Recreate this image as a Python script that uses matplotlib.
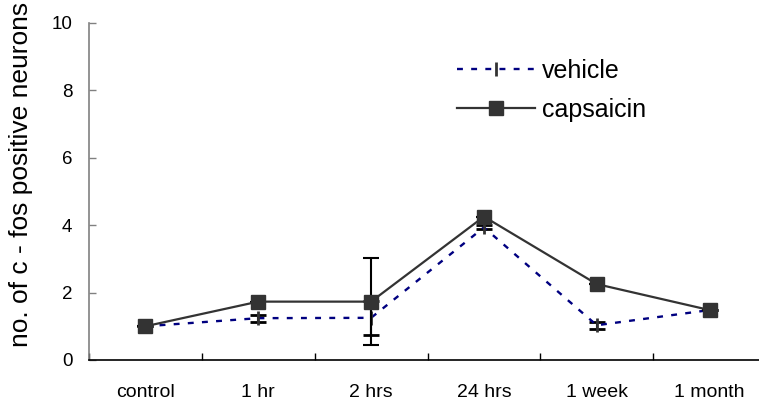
import matplotlib
matplotlib.use("Agg")
import matplotlib.pyplot as plt
from matplotlib.lines import Line2D
import numpy as np

categories = ["control", "1 hr", "2 hrs", "24 hrs", "1 week", "1 month"]
vehicle = [1.0, 1.24, 1.25, 3.93, 1.03, 1.48]
vehicle_err = [0.0, 0.1, 0.5, 0.06, 0.1, 0.0]
capsaicin = [1.0, 1.73, 1.73, 4.25, 2.25, 1.48]
capsaicin_err = [0.0, 0.0, 1.3, 0.0, 0.0, 0.0]
yticks = [0, 2, 4, 6, 8, 10]

plt.rcParams['font.family'] = ['Liberation Sans', 'DejaVu Sans']

W, H = 759, 408
fig = plt.figure(figsize=(W / 100, H / 100), dpi=100)
ax = fig.add_axes([89 / W, (H - 360) / H, (766 - 89) / W, (360 - 22.6) / H])

x = np.arange(len(categories))
dark = "#333333"
navy = "#000080"
vdash = (0, (2.5, 3.5))

ax.errorbar(x, vehicle, yerr=vehicle_err, color=navy, lw=1.7,
            linestyle=vdash, marker="|", markersize=10,
            markeredgewidth=2, markeredgecolor=dark, ecolor="black",
            elinewidth=1.5, capsize=5.5, capthick=1.5, zorder=2)
ax.errorbar(x, capsaicin, yerr=capsaicin_err, color=dark, lw=1.6,
            marker="s", markersize=10.5, markerfacecolor=dark,
            markeredgecolor=dark, ecolor="black", elinewidth=1.5,
            capsize=5.5, capthick=1.5, zorder=3)

ax.set_xlim(-0.5, len(categories) - 0.5)
ax.set_ylim(0, 10)
ax.set_yticks(yticks)
ax.set_yticklabels([str(v) for v in yticks], fontsize=13.5)
ax.set_xticks(x)
ax.set_xticklabels(categories, fontsize=14)
ax.set_xticks(np.arange(len(categories) + 1) - 0.5, minor=True)
ax.tick_params(axis="x", which="major", length=0, pad=17)
ax.tick_params(axis="x", which="minor", direction="in", length=5, width=1, color="black")
ax.tick_params(axis="y", direction="in", length=5, width=1, color="#808080", pad=12)

for s in ["top", "right"]:
    ax.spines[s].set_visible(False)
ax.spines["left"].set_color("#808080")
ax.spines["left"].set_linewidth(1.2)
ax.spines["bottom"].set_color("black")
ax.spines["bottom"].set_linewidth(1.2)

ax.set_ylabel("no. of c - fos positive neurons", fontsize=19)
ax.yaxis.set_label_coords((33 - 89) / 677, (360 - 174) / 337.4)

handles = [
    Line2D([], [], color=navy, lw=1.7, linestyle=vdash, marker="|",
           markersize=10, markeredgewidth=2, markeredgecolor=dark),
    Line2D([], [], color=dark, lw=1.6, marker="s", markersize=10.5,
           markerfacecolor=dark, markeredgecolor=dark),
]
leg = ax.legend(handles, ["vehicle", "capsaicin"], loc="center left",
                bbox_to_anchor=(457 / W, 1 - 90 / H),
                bbox_transform=fig.transFigure, frameon=False, fontsize=18,
                handlelength=3.1, handletextpad=0.3, labelspacing=0.6,
                borderpad=0, borderaxespad=0)

fig.savefig("out.png", dpi=100)
